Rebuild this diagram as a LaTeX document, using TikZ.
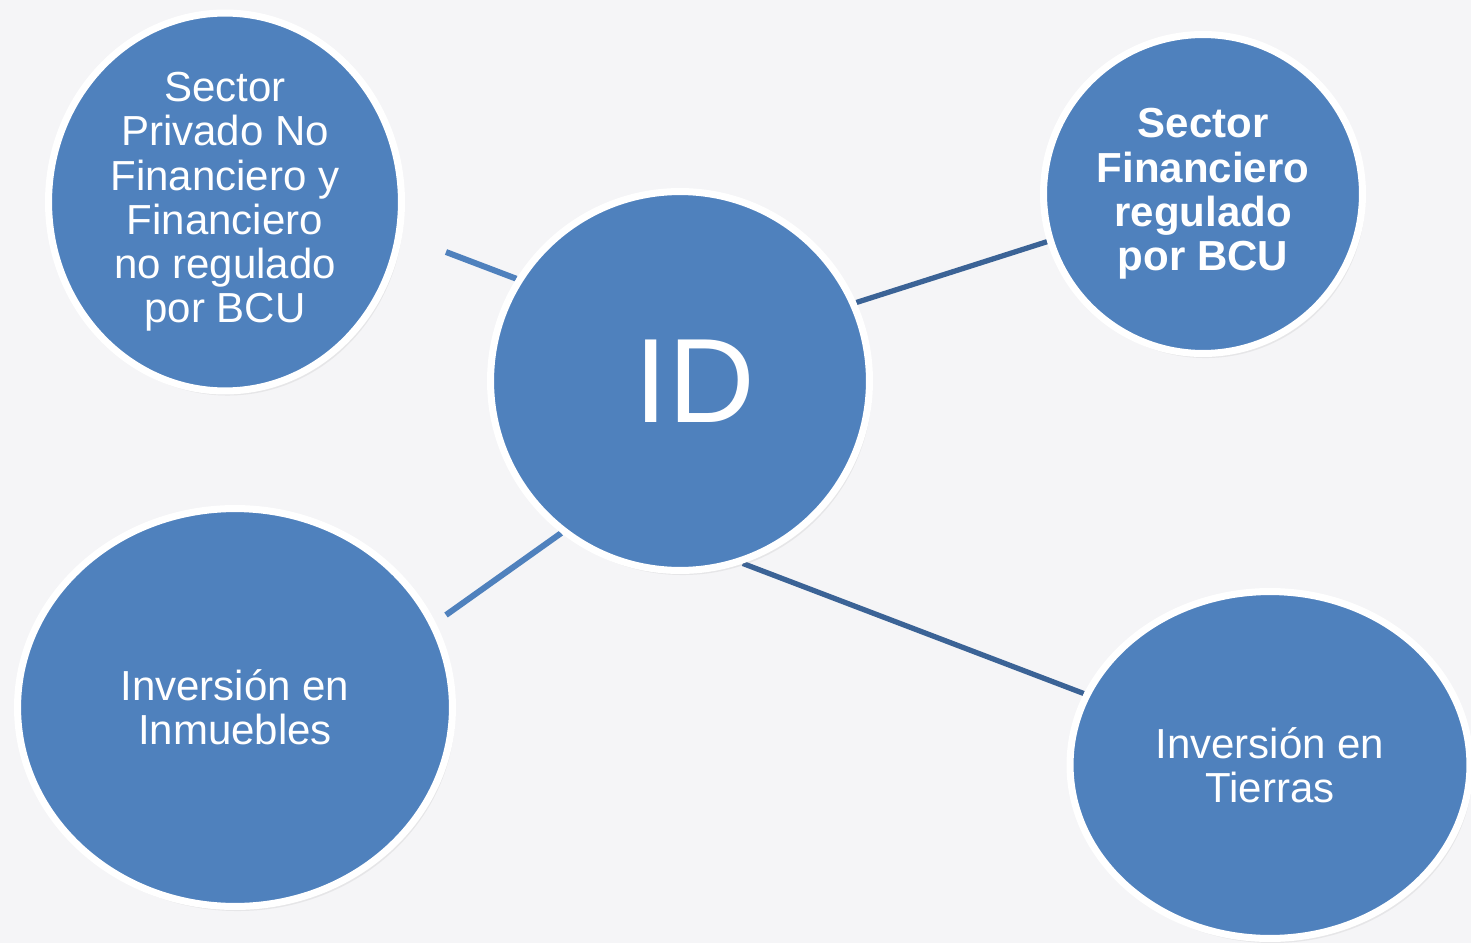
\documentclass[tikz,border=0pt]{standalone}
\usepackage{fontspec}
\setmainfont{Liberation Sans}
\usepackage{xcolor}
\usetikzlibrary{shapes.geometric}
\usetikzlibrary{shadows}
\usetikzlibrary{backgrounds}
\usetikzlibrary{math}

\definecolor{bubbleblue}{HTML}{4F81BD}
\definecolor{linkdark}{HTML}{3B6396}
\definecolor{paper}{HTML}{F5F5F7}

\newcommand{\bubblefont}{\fontsize{23.9}{25.2}\selectfont}

\pgfdeclarelayer{links}
\pgfsetlayers{background,links,main}

\tikzset{
  bubble/.style={ellipse, fill=bubbleblue, draw=white, line width=4pt,
    inner sep=0pt, text=white, align=center, font=\bubblefont,
    drop shadow={opacity=0.12, shadow xshift=1.5pt, shadow yshift=-2.6pt},
    drop shadow={opacity=0.18, shadow xshift=0.7pt, shadow yshift=-1.3pt}},
  link/.style={line width=3pt, draw=linkdark},
  linklight/.style={line width=3.4pt, draw=bubbleblue},
}

\begin{document}
\begin{tikzpicture}[x=0.02cm, y=-0.02cm]

  \tikzmath{
    \aTL = 148.5;  % angle on ID towards top-left bubble
    \aTR = 24.3;   % angle on ID towards top-right bubble
    \aBL = -128;   % angle on ID towards bottom-left bubble
    \aBR = -71.9;  % angle on ID towards bottom-right bubble
  }

  \useasboundingbox (0,0) rectangle (1471,943);
  \begin{pgfonlayer}{background}
    \fill[paper] (0,0) rectangle (1471,943);
  \end{pgfonlayer}

  % central bubble
  \node[bubble, minimum width=7.58cm, minimum height=7.58cm,
    font=\fontsize{68.3}{70}\selectfont] (ID) at (680,381) {\hspace*{17pt}ID};

  % outer bubbles
  \node[bubble, minimum width=7.06cm, minimum height=7.56cm] (TL) at (225,202)
  {Sector\\Privado No\\Financiero y\\Financiero\\no regulado\\por BCU};

  \node[bubble, minimum width=6.38cm, minimum height=6.38cm,
    font=\bubblefont\bfseries] (TR) at (1203,194)
  {Sector\\Financiero\\regulado\\por BCU};

  \node[bubble, minimum width=8.70cm, minimum height=7.96cm] (BL) at (235,707.5)
  {Inversión en\\Inmuebles};

  \node[bubble, minimum width=8.00cm, minimum height=6.94cm] (BR) at (1270,765)
  {Inversión en\\Tierras};

  % free ends of the short links
  \coordinate (tlEnd) at (446,252);
  \coordinate (blEnd) at (446,615);

  % links, behind the bubbles
  \begin{pgfonlayer}{links}
    \draw[linklight] (ID.\aTL) -- (tlEnd);
    \draw[link] (ID.\aTR) -- (TR.197.2);
    \draw[linklight] (ID.\aBL) -- (blEnd);
    \draw[link] (ID.\aBR) -- (BR.159.1);
  \end{pgfonlayer}

\end{tikzpicture}
\end{document}
